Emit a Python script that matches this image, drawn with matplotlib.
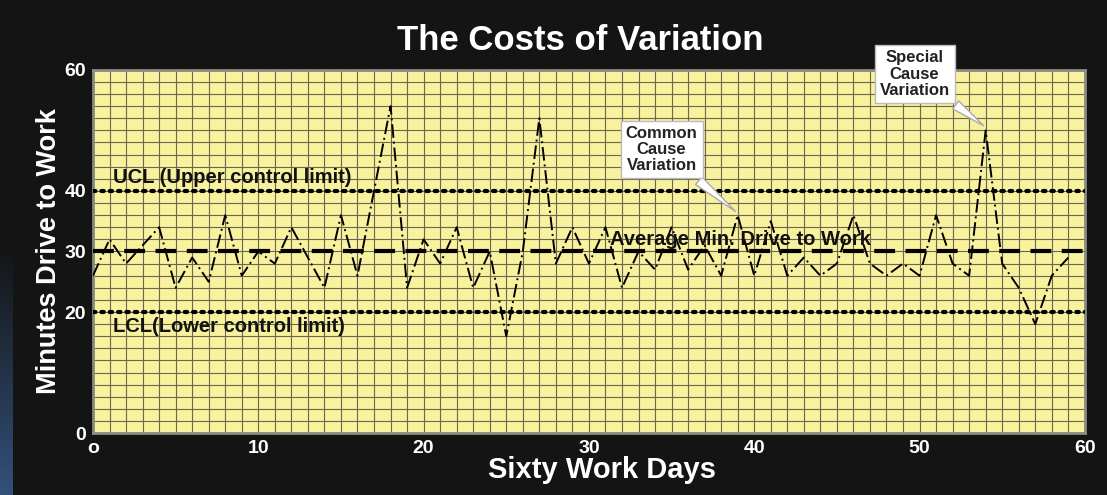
import numpy as np
import matplotlib
matplotlib.use("Agg")
import matplotlib.pyplot as plt
from matplotlib.ticker import MultipleLocator

# day-by-day minutes
days = list(range(60))
minutes = [26, 32, 28, 31, 34, 24, 29, 25, 36, 26,
           30, 28, 34, 29, 24, 36, 26, 40, 54, 24,
           32, 28, 34, 24, 30, 16, 30, 52, 28, 34,
           28, 34, 24, 30, 27, 34, 27, 31, 26, 36,
           26, 35, 26, 29, 26, 28, 36, 28, 26, 28,
           26, 36, 28, 26, 50, 28, 24, 18, 26, 29]
ucl = 40
avg = 30
lcl = 20
yticks = [0, 20, 30, 40, 60]
xticks = [0, 10, 20, 30, 40, 50, 60]
xticklabels = ["o", "10", "20", "30", "40", "50", "60"]

SANS = ["Liberation Sans", "DejaVu Sans"]
BG = "#141414"

fig = plt.figure(figsize=(11.07, 4.95), dpi=100, facecolor=BG)

# bluish strip at the far left edge
strip = fig.add_axes([0, 0, 0.011, 1])
grad = np.linspace(0, 1, 256).reshape(-1, 1)
cmap = matplotlib.colors.LinearSegmentedColormap.from_list("s", [BG, BG, "#33507a"])
strip.imshow(grad, aspect="auto", cmap=cmap, origin="upper")
strip.axis("off")

ax = fig.add_axes([0.084, 0.125, 0.896, 0.734])
ax.set_facecolor("#f8f19e")
ax.set_xlim(0, 60)
ax.set_ylim(0, 60)

ax.xaxis.set_minor_locator(MultipleLocator(1))
ax.yaxis.set_minor_locator(MultipleLocator(2))
ax.grid(which="both", color="#6b6650", lw=0.8, zorder=0)
ax.set_axisbelow(True)
for s in ax.spines.values():
    s.set_color("#8a8a80")
    s.set_linewidth(2)

ax.set_xticks(xticks)
ax.set_xticklabels(xticklabels)
ax.set_yticks(yticks)
ax.tick_params(which="both", length=0, colors="white", labelsize=14, pad=5)
for t in ax.get_xticklabels() + ax.get_yticklabels():
    t.set_family(SANS)
    t.set_fontweight("bold")

# control lines
ax.axhline(ucl, color="black", lw=3, ls=(0, (0.6, 1.4)), dash_capstyle="round", zorder=3)
ax.axhline(lcl, color="black", lw=3, ls=(0, (0.6, 1.4)), dash_capstyle="round", zorder=3)
ax.axhline(avg, color="black", lw=3, ls=(0, (5, 2.5)), zorder=3)

ax.plot(days, minutes, color="black", lw=1.4, ls=(0, (7, 2, 1, 2)), zorder=4)

lab = dict(family=SANS, fontweight="bold", fontsize=14.5, ha="left", color="#111", zorder=5)
ax.text(1.2, ucl + 0.7, "UCL (Upper control limit)", va="bottom", **lab)
ax.text(1.2, lcl - 0.8, "LCL(Lower control limit)", va="top", **lab)
ax.text(31.3, avg + 0.4, "Average Min. Drive to Work", va="bottom", **lab)

box = dict(boxstyle="square,pad=0.3", fc="white", ec="#bbbbbb", lw=1)
arrow = dict(arrowstyle="wedge,tail_width=0.6,shrink_factor=0.5", fc="white", ec="#aaaaaa", lw=1)
ax.annotate("Common\nCause\nVariation", xy=(39, 36.3), xytext=(34.4, 46.8),
            ha="center", va="center", family=SANS, fontweight="bold", fontsize=12,
            linespacing=1.1, color="#222", bbox=box, arrowprops=arrow, zorder=6)
ax.annotate("Special\nCause\nVariation", xy=(54, 50.5), xytext=(49.7, 59.3),
            ha="center", va="center", family=SANS, fontweight="bold", fontsize=12,
            linespacing=1.1, color="#222", bbox=box, arrowprops=arrow, zorder=6,
            annotation_clip=False)

ax.set_ylabel("Minutes Drive to Work", family=SANS, fontweight="bold",
              fontsize=19.5, color="white", labelpad=2)
fig.text(0.544, 0.05, "Sixty Work Days", family=SANS, fontweight="bold",
         fontsize=21, color="white", ha="center", va="center")
fig.text(0.524, 0.918, "The Costs of Variation", family=SANS, fontweight="bold",
         fontsize=25, color="white", ha="center", va="center")

fig.savefig("out.png", dpi=100, facecolor=BG)
